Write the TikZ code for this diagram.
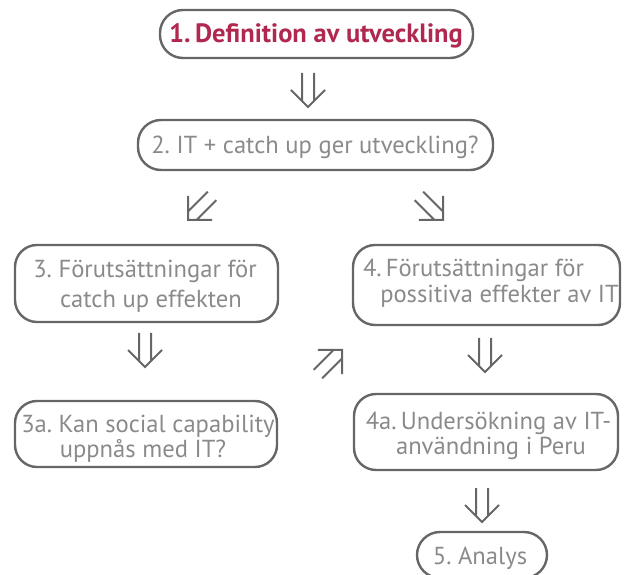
\documentclass[tikz,border=0pt]{standalone}
\usepackage{fontspec}
\setmainfont{PT Sans}
\definecolor{boxline}{HTML}{666666}
\definecolor{textgray}{HTML}{8A8A8A}
\definecolor{titlered}{HTML}{B0284F}
\begin{document}
\begin{tikzpicture}[x=1pt,y=-1pt,
  box/.style={draw=boxline, line width=2.4pt, rounded corners=22pt, inner sep=0pt},
  pill/.style={box, rounded corners=23pt},
  txt/.style={text=textgray, font=\fontsize{24.6}{28}\selectfont, anchor=base, inner sep=0pt},
  title/.style={txt, text=titlered, font=\bfseries\fontsize{26.5}{30}\selectfont},
  arrowline/.style={draw=boxline, line width=2pt, line join=miter},
  dbl/.pic={\path[arrowline] (-6,-34) -- (-6,-6) (6,-34) -- (6,-6) (-17,-17) -- (0,0) -- (17,-17);}
]
\useasboundingbox (0,0) rectangle (625,575);
\clip (0,0) rectangle (625,575);

% boxes
\node[pill, minimum width=313pt, minimum height=48pt] (b1) at (316.5,34) {};
\node[pill, minimum width=355pt, minimum height=50pt] (b2) at (315.5,145) {};
\node[box, minimum width=263pt, minimum height=77pt] (b3) at (146.5,283.5) {};
\node[box, minimum width=262pt, minimum height=66pt] (b3a) at (146,434) {};
\node[box, minimum width=267pt, minimum height=80pt] (b4) at (486.5,285) {};
\node[box, minimum width=264pt, minimum height=76pt] (b4a) at (486,432) {};
\node[pill, minimum width=130pt, minimum height=46pt] (b5) at (482,555) {};

% labels
\node[title] (t1) at (316,43) {1.\,Definition av utveckling};
\node[txt] (t2) at (315,154) {2.\ IT + catch up ger utveckling?};
\node[txt] (t3l1) at (145,278) {3.\ Förutsättningar för};
\node[txt] (t3l2) at (151,308) {catch up effekten};
\node[txt] (t3al1) at (148,432) {3a.\ Kan social capability};
\node[txt] (t3al2) at (143,457) {uppnås med IT?};
\node[txt] (t4l1) at (473.5,277) {4.\,Förutsättningar för};
\node[txt] (t4l2) at (499.5,303) {possitiva effekter av IT};
\node[txt] (t4al1) at (488.5,429) {4a.\,Undersökning av IT-};
\node[txt] (t4al2) at (491,454) {användning i Peru};
\node[txt] (t5) at (480,564) {5.\ Analys};

% double arrows between the steps
\pic at (308,107) {dbl};
\pic[rotate=-45] at (188,220) {dbl};
\pic[rotate=45] at (443,220) {dbl};
\pic at (145,367) {dbl};
\pic[rotate=135] at (342,350) {dbl};
\pic at (485,372) {dbl};
\pic at (482,522) {dbl};
\end{tikzpicture}
\end{document}
